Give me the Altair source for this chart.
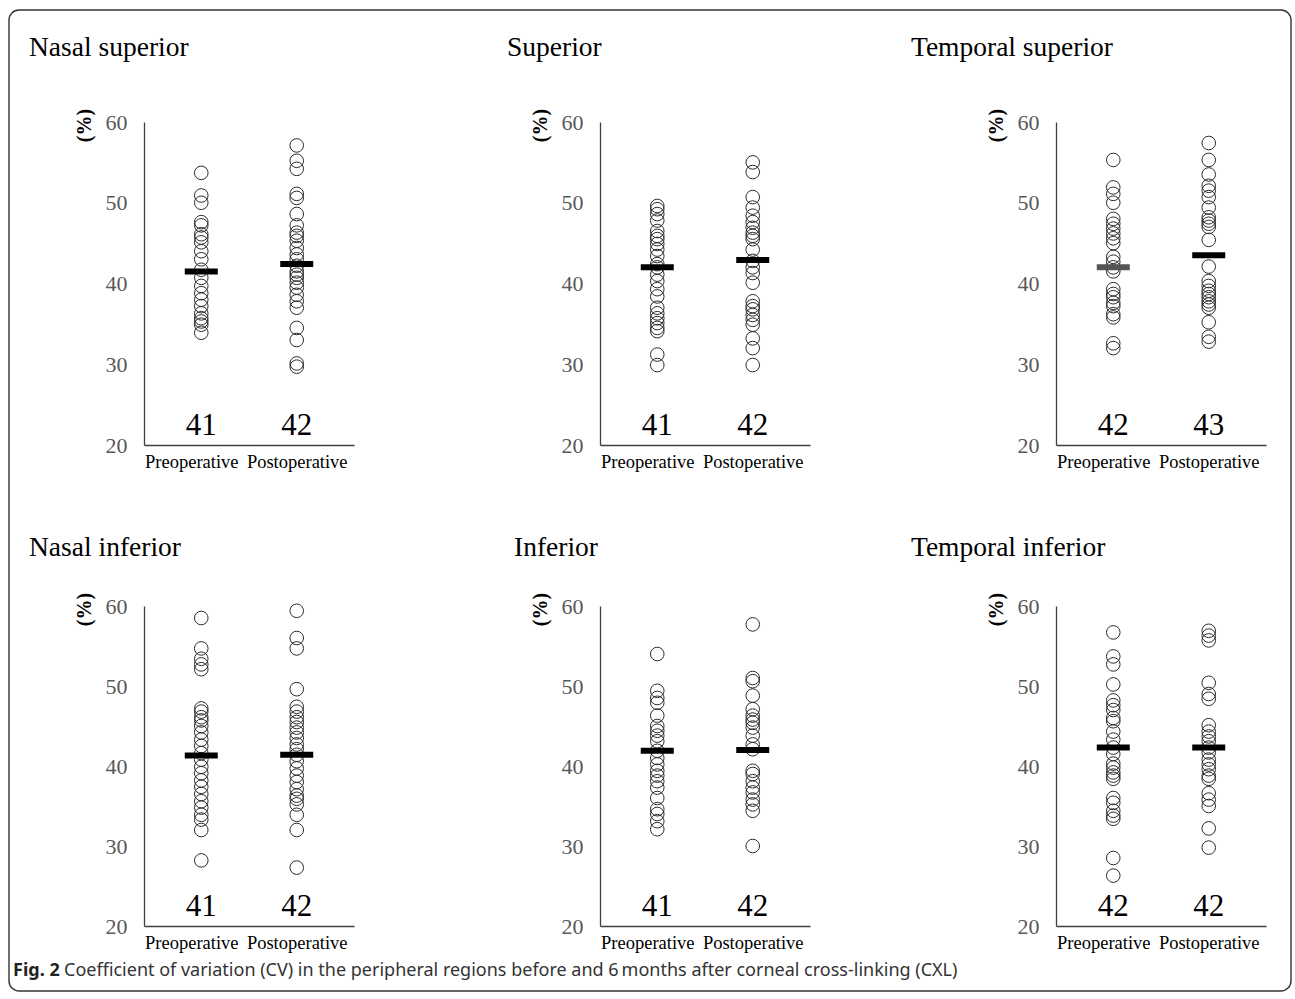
import altair as alt
import pandas as pd

SERIF = "Liberation Serif"
SANS = "Noto Sans"
GROUPS = ["Preoperative", "Postoperative"]

TITLES = ["Nasal superior", "Superior", "Temporal superior",
          "Nasal inferior", "Inferior", "Temporal inferior"]

# Nasal superior
ns_pre = [53.7, 50.9, 50.0, 47.6, 47.2, 46.1, 45.7, 45.1, 44.0, 43.0, 41.7, 40.7,
          39.7, 38.8, 38.0, 37.2, 36.3, 35.7, 35.3, 34.9, 33.9]
ns_post = [57.1, 55.2, 54.2, 51.1, 50.6, 48.6, 47.2, 46.3, 45.9, 45.3, 44.4, 43.6,
           43.0, 42.2, 41.5, 41.1, 40.7, 40.1, 39.5, 38.6, 37.8, 37.0, 34.5, 33.0,
           30.1, 29.7]
ns_mean = [41.5, 42.4]
ns_lab = ["41", "42"]

# Superior
su_pre = [49.6, 49.2, 48.6, 47.8, 46.5, 45.9, 45.5, 44.9, 44.2, 43.4, 42.4, 42.0,
          41.1, 40.3, 39.3, 38.4, 37.0, 36.3, 35.7, 35.1, 34.5, 34.1, 31.2, 29.9]
su_post = [55.0, 53.8, 50.7, 49.4, 48.4, 47.6, 46.9, 46.3, 45.9, 45.5, 44.2, 42.8,
           42.0, 41.3, 40.1, 37.8, 37.2, 36.8, 36.1, 35.5, 34.9, 33.2, 32.0, 29.9]
su_mean = [42.0, 42.9]
su_lab = ["41", "42"]

# Temporal superior
ts_pre = [55.3, 51.9, 51.1, 50.0, 48.0, 47.4, 46.8, 46.2, 45.6, 45.0, 43.3, 42.7,
          42.0, 41.5, 39.3, 38.7, 38.3, 37.6, 37.2, 36.2, 35.8, 32.6, 32.0]
ts_post = [57.4, 55.3, 53.5, 52.1, 51.5, 50.7, 49.4, 48.2, 47.8, 47.4, 47.0, 45.4,
           42.1, 40.3, 39.7, 39.1, 38.7, 38.3, 37.8, 37.4, 37.0, 35.2, 33.4, 32.8]
ts_mean = [42.0, 43.5]
ts_lab = ["42", "43"]

# Nasal inferior
ni_pre = [58.5, 54.7, 53.4, 52.7, 52.1, 47.2, 46.8, 46.1, 45.7, 45.0, 44.2, 43.3,
          42.5, 41.6, 40.8, 39.9, 39.1, 38.2, 37.4, 36.5, 35.6, 34.8, 33.9, 33.3,
          32.0, 28.2]
ni_post = [59.4, 56.0, 54.7, 49.6, 47.4, 46.8, 46.1, 45.5, 44.8, 44.2, 43.5, 42.7,
           42.1, 41.4, 40.6, 39.7, 38.8, 38.0, 37.1, 36.3, 35.9, 35.2, 33.9, 32.0,
           27.3]
ni_mean = [41.3, 41.4]
ni_lab = ["41", "42"]

# Inferior
in_pre = [54.0, 49.4, 48.5, 47.9, 46.3, 45.0, 44.4, 43.8, 43.1, 41.9, 41.0, 40.2,
          39.4, 38.8, 38.1, 37.3, 36.0, 34.6, 34.0, 33.1, 32.1]
in_post = [57.7, 51.0, 50.6, 48.8, 47.1, 46.3, 45.8, 45.4, 44.8, 43.8, 42.7, 42.1,
           39.4, 39.0, 38.1, 37.3, 36.7, 35.8, 35.2, 34.4, 30.0]
in_mean = [41.9, 42.0]
in_lab = ["41", "42"]

# Temporal inferior
ti_pre = [56.7, 53.7, 52.7, 50.2, 48.2, 47.6, 47.0, 46.0, 45.6, 44.3, 43.3, 42.3,
          41.5, 40.3, 39.8, 39.2, 38.8, 38.4, 36.0, 35.4, 34.4, 33.8, 33.4, 28.5, 26.3]
ti_post = [56.9, 56.3, 55.7, 50.4, 49.0, 48.4, 45.1, 44.3, 43.7, 43.1, 42.3, 41.7,
           40.8, 40.2, 39.6, 38.8, 38.4, 36.6, 35.8, 35.0, 32.2, 29.8]
ti_mean = [42.3, 42.3]
ti_lab = ["42", "42"]

LABEL_Y = 22.4
Y_TICKS = [20, 30, 40, 50, 60]
CAPTION_BOLD = "Fig. 2"
CAPTION_TEXT = ("Coefficient of variation (CV) in the peripheral regions before and "
                "6\u2009months after corneal cross-linking (CXL)")


def panel(title, pre, post, means, labels, bar_colors, title_dx, title_y, height,
          extra=None):
    pts = pd.DataFrame({"group": [GROUPS[0]] * len(pre) + [GROUPS[1]] * len(post),
                        "value": pre + post})
    mdf = pd.DataFrame({"group": GROUPS, "value": means, "color": bar_colors})
    ldf = pd.DataFrame({"group": GROUPS, "value": [LABEL_Y, LABEL_Y], "label": labels})
    tdf = pd.DataFrame({"title": [title]})
    xenc = alt.X("group:N", sort=GROUPS,
                 scale=alt.Scale(type="point", domain=GROUPS, padding=0.6),
                 axis=alt.Axis(title=None, labelAngle=0, ticks=False, labelFont=SERIF,
                               labelFontSize=18.5, labelColor="#000", labelPadding=7,
                               labelOffset={"condition": {
                                   "test": "datum.value === 'Preoperative'",
                                   "value": -10}, "value": 0},
                               domainColor="#404040", domainWidth=1.3, grid=False))
    yenc = alt.Y("value:Q", scale=alt.Scale(domain=[20, 60], nice=False, zero=False),
                 axis=alt.Axis(values=Y_TICKS, title="(%)", titleAngle=270, titleX=-60,
                               titleY=3, titleAlign="center", titleBaseline="middle",
                               titleFont=SERIF, titleFontSize=20, titleFontWeight="bold",
                               titleColor="#000", labelFont=SERIF, labelFontSize=22,
                               labelColor="#595959", labelPadding=17, ticks=False,
                               grid=False, domainColor="#404040", domainWidth=1.3))
    points = alt.Chart(pts).mark_point(
        shape="circle", filled=False, size=185, stroke="#2b2b2b", strokeWidth=1,
        opacity=1
    ).encode(x=xenc, y=yenc)
    bars = alt.Chart(mdf).mark_tick(thickness=6, size=33, opacity=1).encode(
        x=alt.X("group:N", sort=GROUPS), y="value:Q",
        color=alt.Color("color:N", scale=None))
    nums = alt.Chart(ldf).mark_text(font=SERIF, fontSize=31, color="#000",
                                     baseline="middle").encode(
        x=alt.X("group:N", sort=GROUPS), y="value:Q", text="label:N")
    ttl = alt.Chart(tdf).mark_text(font=SERIF, fontSize=27.5, color="#000",
                                    align="left", baseline="alphabetic").encode(
        x=alt.value(title_dx), y=alt.value(title_y), text="title:N")
    layers = [points, bars, nums, ttl] + (extra or [])
    return alt.layer(*layers).properties(width=210, height=height)


# caption and frame, attached to the bottom-left panel
one = pd.DataFrame({"bold": [CAPTION_BOLD], "text": [CAPTION_TEXT]})
frame = alt.Chart(one).mark_rect(fillOpacity=0, stroke="#333", strokeWidth=1.4,
                                 cornerRadius=10).encode(
    x=alt.value(-135), x2=alt.value(1147), y=alt.value(-596), y2=alt.value(385))
cap_bold = alt.Chart(one).mark_text(align="left", baseline="middle", font=SANS,
                                    fontSize=18, fontWeight="bold",
                                    color="#222").encode(
    x=alt.value(-131), y=alt.value(365), text="bold:N")
cap_text = alt.Chart(one).mark_text(align="left", baseline="middle", font=SANS,
                                    fontSize=18, color="#333").encode(
    x=alt.value(-80), y=alt.value(365), text="text:N")

p1 = panel(TITLES[0], ns_pre, ns_post, ns_mean, ns_lab, ["#000", "#000"], -115, -66, 323)
p2 = panel(TITLES[1], su_pre, su_post, su_mean, su_lab, ["#000", "#000"], -93, -66, 323)
p3 = panel(TITLES[2], ts_pre, ts_post, ts_mean, ts_lab, ["#555", "#000"], -145, -66, 323)
p4 = panel(TITLES[3], ni_pre, ni_post, ni_mean, ni_lab, ["#000", "#000"], -115, -50, 320,
           extra=[frame, cap_bold, cap_text])
p5 = panel(TITLES[4], in_pre, in_post, in_mean, in_lab, ["#000", "#000"], -86, -50, 320)
p6 = panel(TITLES[5], ti_pre, ti_post, ti_mean, ti_lab, ["#000", "#000"], -145, -50, 320)

chart = alt.concat(p1, p2, p3, p4, p5, p6, columns=3,
                   spacing={"row": 161, "column": 246}, bounds="flush").properties(
    padding={"left": 8, "top": 9, "right": 0, "bottom": 0}
).configure_view(strokeWidth=0).configure_axis(grid=False)

chart.save("out.html", embed_options={"renderer": "svg", "actions": False})
